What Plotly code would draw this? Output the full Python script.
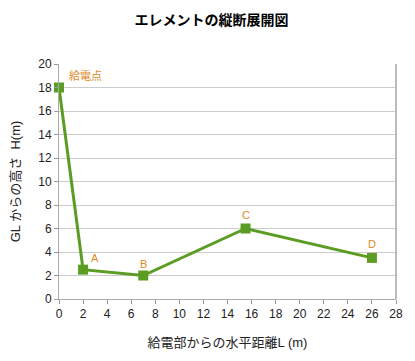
import plotly.graph_objects as go

distance_m = [0, 2, 7, 15.5, 26]
height_m = [18, 2.5, 2, 6, 3.5]
point_labels = ["給電点", "A", "B", "C", "D"]
x_ticks = list(range(0, 29, 2))
y_ticks = list(range(0, 21, 2))

font_family = "Liberation Sans, Arial, Noto Sans CJK JP, sans-serif"
line_color = "#5b9c22"
label_color = "#e08a1e"

fig = go.Figure()
fig.add_trace(go.Scatter(
    x=distance_m, y=height_m, mode="lines+markers",
    line=dict(color=line_color, width=3),
    marker=dict(symbol="square", size=10, color=line_color),
    cliponaxis=False, showlegend=False,
))

shifts = [(26, 12), (12, 12), (0, 12), (0, 14), (0, 14)]
for xv, yv, lab, (dx, dy) in zip(distance_m, height_m, point_labels, shifts):
    fig.add_annotation(x=xv, y=yv, text=lab, showarrow=False,
                       xshift=dx, yshift=dy,
                       font=dict(color=label_color, size=11, family=font_family))

fig.update_layout(
    width=407, height=353,
    margin=dict(l=51, r=19, t=56, b=62),
    paper_bgcolor="white", plot_bgcolor="white",
    title=dict(text="<b>エレメントの縦断展開図</b>", x=0.5, xanchor="center",
               y=0.966, yanchor="middle",
               font=dict(size=14, color="black", family="Noto Sans CJK JP")),
    font=dict(family=font_family, color="#222"),
)
fig.update_xaxes(
    range=[0, 28], tickvals=x_ticks, ticks="outside", ticklen=4,
    tickcolor="#999", showgrid=False, showline=True, linecolor="#aaa",
    mirror=False, zeroline=False, tickfont=dict(size=12), automargin=False,
    title=dict(text="給電部からの水平距離L (m)", font=dict(size=13), standoff=17),
)
fig.update_yaxes(
    range=[0, 20], tickvals=y_ticks, ticks="outside", ticklen=4,
    tickcolor="#999", showgrid=True, gridcolor="#ccc", gridwidth=1,
    showline=True, linecolor="#aaa", zeroline=False, tickfont=dict(size=12),
    automargin=False,
    title=dict(text="GL からの高さ  H(m)", font=dict(size=13), standoff=14),
)
# right border
fig.add_shape(type="line", xref="paper", yref="paper", x0=1, x1=1, y0=0, y1=1,
              line=dict(color="#bbb", width=2))

fig.write_html("out.html")
